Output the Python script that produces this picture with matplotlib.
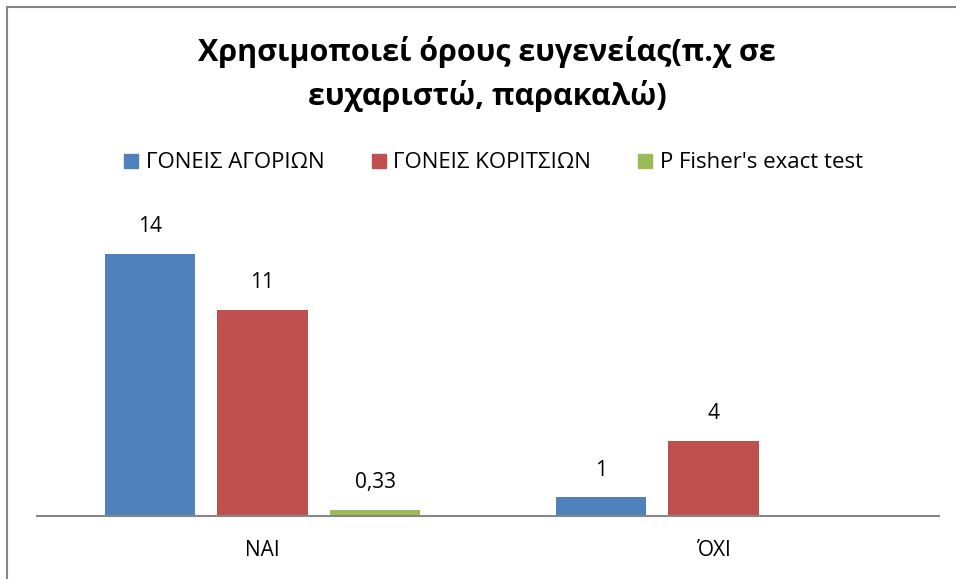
#!/usr/bin/env python3
"""
Bar chart: use of polite terms, parents of boys vs parents of girls
"""

import matplotlib
matplotlib.use('Agg')
import matplotlib.pyplot as plt
from matplotlib.lines import Line2D
from matplotlib.patches import Rectangle
import numpy as np

plt.rcParams['font.family'] = ['Open Sans', 'DejaVu Sans']

categories = ['ΝΑΙ', 'ΌΧΙ']
series_names = ['ΓΟΝΕΙΣ ΑΓΟΡΙΩΝ', 'ΓΟΝΕΙΣ ΚΟΡΙΤΣΙΩΝ', "P Fisher's exact test"]
boys = [14, 1]
girls = [11, 4]
p_fisher = [0.33, np.nan]
colors = ['#4F81BD', '#C0504D', '#9BBB59']


def fmt(v):
    # Greek locale: comma as decimal separator
    if float(v).is_integer():
        return f'{int(v)}'
    return f'{v:.2f}'.replace('.', ',')


fig = plt.figure(figsize=(9.56, 5.79), dpi=100)
ax = fig.add_axes([37 / 956, 63 / 579, 902 / 956, 300 / 579])

x = np.arange(len(categories))
width = 0.2
offsets = [-0.25, 0.0, 0.25]
for vals, off, col in zip([boys, girls, p_fisher], offsets, colors):
    for xi, v in zip(x, vals):
        if np.isnan(v):
            continue
        ax.bar(xi + off, v, width, color=col)
        ax.text(xi + off, v + 1.45, fmt(v), ha='center', va='center', fontsize=15)

ax.set_xlim(-0.5, 1.5)
ax.set_ylim(0, 16)
ax.set_yticks([])
ax.set_xticks(x)
ax.set_xticklabels(categories, fontsize=15)
ax.tick_params(axis='x', length=0, pad=17)
for side in ['top', 'right', 'left']:
    ax.spines[side].set_visible(False)
ax.spines['bottom'].set_color('#868686')
ax.spines['bottom'].set_linewidth(1.5)

fig.suptitle('Χρησιμοποιεί όρους ευγενείας(π.χ σε\nευχαριστώ, παρακαλώ)',
             x=487 / 956, y=1 - 36 / 579, va='top', fontsize=22, fontweight='bold',
             linespacing=1.5)

handles = [Line2D([], [], marker='s', linestyle='', markersize=10.5, color=c) for c in colors]
fig.legend(handles, series_names, loc='center', ncol=3, frameon=False,
           bbox_to_anchor=(492 / 956, 1 - 163 / 579), fontsize=16,
           handletextpad=0.2, columnspacing=2.0, handlelength=0.9)

# chart area border
fig.patches.append(Rectangle((7 / 956, -0.1), 1.2, 1 - 7 / 579 + 0.1,
                             transform=fig.transFigure, fill=False,
                             edgecolor='#868686', linewidth=1.5))

plt.savefig('out.png', dpi=100)
